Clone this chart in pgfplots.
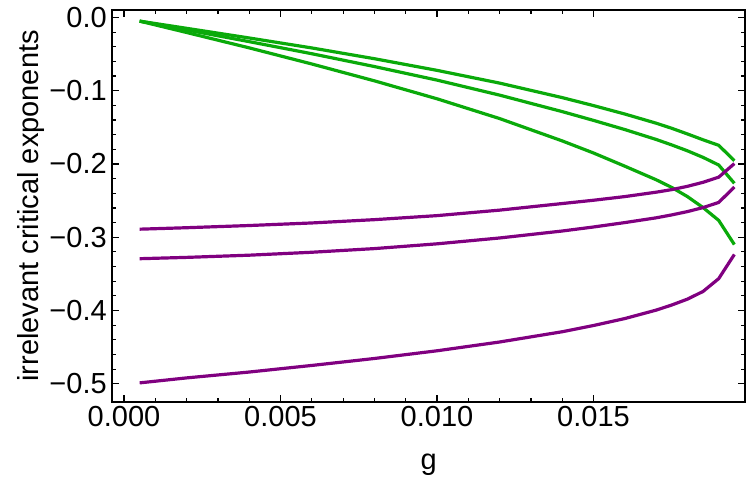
\documentclass[border=0pt]{standalone}
\usepackage{fontspec}
\setmainfont{Liberation Sans}
\usepackage{pgfplots}
\pgfplotsset{compat=1.18}
\definecolor{mgreen}{RGB}{10,170,10}
\definecolor{mpurple}{RGB}{128,0,128}
\begin{document}
\begin{tikzpicture}
\useasboundingbox (-56.15pt,-46.15pt) rectangle (318.85pt,200.85pt);
\begin{axis}[at={(0,0)}, anchor=south west, scale only axis,
 width=316.35pt, height=195.85pt,
 xmin=-0.000374, xmax=0.01984, ymin=-0.5245, ymax=0.0102,
 scaled x ticks=false, scaled y ticks=false,
 xtick={0,0.005,0.01,0.015}, xticklabels={0.000,0.005,0.010,0.015},
 ytick={-0.5,-0.4,-0.3,-0.2,-0.1,0}, yticklabels={−0.5,−0.4,−0.3,−0.2,−0.1,0.0},
 minor x tick num=4, minor y tick num=4,
 tick align=inside, major tick length=3.5pt, minor tick length=2pt,
 axis line style={line width=0.8pt},
 every tick/.style={black, line width=0.6pt},
 tick label style={font=\fontsize{14.5}{17}\selectfont, inner sep=0pt},
 xticklabel style={yshift=-2.3pt}, yticklabel style={xshift=-2.6pt},
 label style={font=\fontsize{14.5}{17}\selectfont},
 xlabel={g}, ylabel={irrelevant critical exponents},
 xlabel style={at={(axis description cs:0.5,-0.174)}, anchor=base},
 ylabel style={at={(axis description cs:-0.1174,0.5)}, anchor=base},
 no markers, every axis plot/.append style={line width=1.6pt, line join=round},
 clip=false]
% green 1
\addplot[mgreen] coordinates {(0.0005,-0.005) (0.002,-0.0148) (0.004,-0.0280) (0.006,-0.0416) (0.008,-0.0563) (0.010,-0.0722) (0.012,-0.0896) (0.014,-0.1094) (0.015,-0.1203) (0.016,-0.1318) (0.017,-0.1443) (0.0175,-0.1513) (0.018,-0.1590) (0.0185,-0.1670) (0.019,-0.1745) (0.0195,-0.1955)};
% green 2
\addplot[mgreen] coordinates {(0.0005,-0.005) (0.002,-0.0170) (0.004,-0.0330) (0.006,-0.0495) (0.008,-0.0670) (0.010,-0.0855) (0.012,-0.1060) (0.014,-0.1285) (0.015,-0.1405) (0.016,-0.1530) (0.017,-0.1665) (0.0175,-0.1740) (0.018,-0.1820) (0.0185,-0.1910) (0.019,-0.2014) (0.0195,-0.2264)};
% green 3
\addplot[mgreen] coordinates {(0.0005,-0.005) (0.002,-0.0205) (0.004,-0.0415) (0.006,-0.0635) (0.008,-0.0865) (0.010,-0.1110) (0.012,-0.1380) (0.014,-0.1685) (0.015,-0.1850) (0.016,-0.2030) (0.017,-0.2215) (0.0175,-0.2320) (0.018,-0.2445) (0.0185,-0.2595) (0.019,-0.2770) (0.0195,-0.3100)};
% purple 1
\addplot[mpurple] coordinates {(0.0005,-0.2890) (0.002,-0.2870) (0.004,-0.2840) (0.006,-0.2805) (0.008,-0.2760) (0.010,-0.2705) (0.012,-0.2630) (0.014,-0.2540) (0.015,-0.2495) (0.016,-0.2445) (0.017,-0.2385) (0.0175,-0.2350) (0.018,-0.2305) (0.0185,-0.2250) (0.019,-0.2180) (0.0195,-0.1995)};
% purple 2
\addplot[mpurple] coordinates {(0.0005,-0.3293) (0.002,-0.3275) (0.004,-0.3245) (0.006,-0.3205) (0.008,-0.3155) (0.010,-0.3090) (0.012,-0.3010) (0.014,-0.2915) (0.015,-0.2860) (0.016,-0.2800) (0.017,-0.2735) (0.0175,-0.2695) (0.018,-0.2650) (0.0185,-0.2595) (0.019,-0.2525) (0.0195,-0.2315)};
% purple 3
\addplot[mpurple] coordinates {(0.0005,-0.4988) (0.002,-0.4920) (0.004,-0.4840) (0.006,-0.4750) (0.008,-0.4655) (0.010,-0.4550) (0.012,-0.4430) (0.014,-0.4290) (0.015,-0.4205) (0.016,-0.4110) (0.017,-0.3995) (0.0175,-0.3925) (0.018,-0.3845) (0.0185,-0.3740) (0.019,-0.3565) (0.0195,-0.3235)};
\end{axis}
\end{tikzpicture}
\end{document}
